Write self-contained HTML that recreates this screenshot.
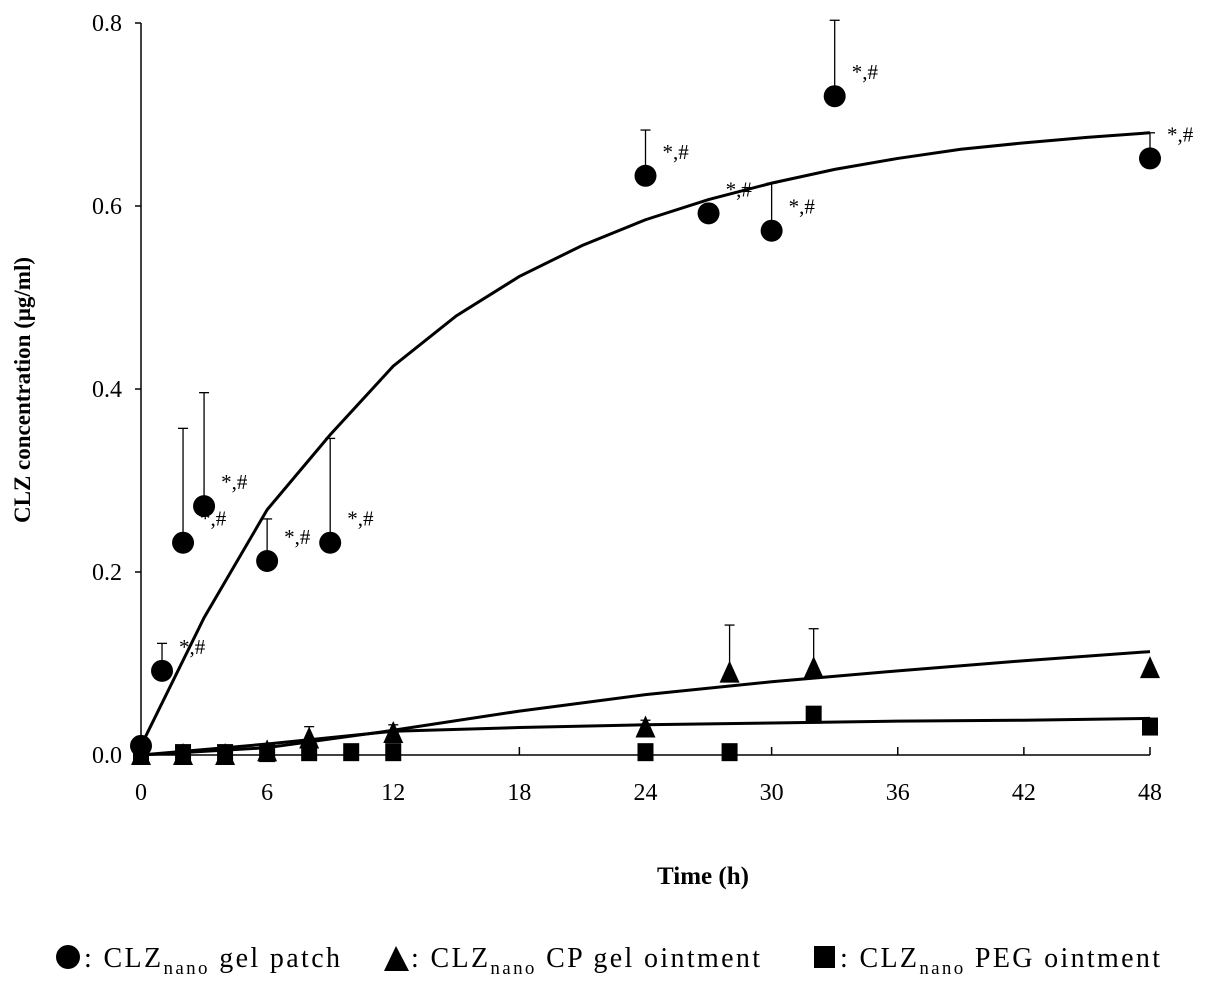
<!DOCTYPE html>
<html><head><meta charset="utf-8"><style>
body{margin:0;background:#fff}
svg{display:block;font-family:"Liberation Serif",serif}
</style></head><body>
<svg id="chart" width="1205" height="987" viewBox="0 0 1205 987" xmlns="http://www.w3.org/2000/svg">
<g id="axes"></g>
<g id="marks"></g>
<text transform="translate(30,390) rotate(-90)" text-anchor="middle" font-size="23" font-weight="bold">CLZ concentration  (μg/ml)</text>
<text x="703" y="884" text-anchor="middle" font-size="25" font-weight="bold">Time (h)</text>
<g font-size="28">
<g>
<circle cx="68" cy="957" r="12" fill="#000"/>
<text x="84" y="967" textLength="256" lengthAdjust="spacing">: CLZ<tspan font-size="19" dy="7">nano</tspan><tspan dy="-7"> gel  patch</tspan></text></g>
<g>
<polygon points="384,971 409,971 396,946" fill="#000"/>
<text x="411" y="967" textLength="349" lengthAdjust="spacing">: CLZ<tspan font-size="19" dy="7">nano</tspan><tspan dy="-7"> CP gel  ointment</tspan></text></g>
<g>
<rect x="814" y="946" width="21" height="22" fill="#000"/>
<text x="840" y="967" textLength="320" lengthAdjust="spacing">: CLZ<tspan font-size="19" dy="7">nano</tspan><tspan dy="-7"> PEG  ointment</tspan></text></g>
</g>
</svg>
<script>
const xTicks=[0,6,12,18,24,30,36,42,48];
const yTicks=[0,0.2,0.4,0.6,0.8];
const yTickLabels=["0.0","0.2","0.4","0.6","0.8"];
const gelT=[0,1,2,3,6,9,24,27,30,33,48];
const gelY=[0.01,0.092,0.232,0.272,0.212,0.232,0.633,0.592,0.573,0.72,0.652];
const gelErr=[0,0.122,0.357,0.396,0.258,0.346,0.683,0,0.625,0.803,0.68];
const gelStar=[0,1,1,1,1,1,1,1,1,1,1];
const cpT=[0,2,4,6,8,12,24,28,32,48];
const cpY=[0,0,0,0.004,0.018,0.024,0.03,0.09,0.095,0.095];
const cpErr=[0,0,0,0,0.031,0.033,0.038,0.142,0.138,0];
const pegT=[0,2,4,6,8,10,12,24,28,32,48];
const pegY=[0,0.001,0.001,0.001,0.002,0.002,0.002,0.002,0.002,0.043,0.03];
const gelFitT=[0,3,6,9,12,15,18,21,24,27,30,33,36,39,42,45,48];
const gelFitY=[0.01,0.15,0.268,0.35,0.425,0.48,0.523,0.557,0.585,0.607,0.625,0.64,0.652,0.662,0.669,0.675,0.68];
const cpFitT=[0,6,12,18,24,30,36,42,48];
const cpFitY=[0,0.008,0.027,0.048,0.066,0.08,0.092,0.103,0.113];
const pegFitT=[0,6,12,18,24,30,36,42,48];
const pegFitY=[0,0.012,0.026,0.03,0.033,0.035,0.037,0.038,0.04];

const X=t=>141+t*(1150-141)/48;
const Y=v=>755-v*(755-23)/0.8;
const NS="http://www.w3.org/2000/svg";
function mk(parent,tag,attrs){const e=document.createElementNS(NS,tag);for(const k in attrs)e.setAttribute(k,attrs[k]);parent.appendChild(e);return e;}
const axes=document.getElementById('axes');const marks=document.getElementById('marks');
let e;
e=mk(axes,'line',{x1:141,y1:Y(0.8),x2:141,y2:755,stroke:'#000','stroke-width':1.5});


e=mk(axes,'line',{x1:141,y1:755,x2:X(48),y2:755,stroke:'#000','stroke-width':1.5});


xTicks.forEach(t=>{
 mk(axes,'line',{x1:X(t),y1:755,x2:X(t),y2:747,stroke:'#000','stroke-width':1.5});
 e=mk(axes,'text',{x:X(t),y:800,'text-anchor':'middle','font-size':24});
 e.textContent=t;
 
 
});
yTicks.forEach((v,i)=>{
 mk(axes,'line',{x1:141,y1:Y(v),x2:135,y2:Y(v),stroke:'#000','stroke-width':1.5});
 e=mk(axes,'text',{x:122,y:Y(v)+8,'text-anchor':'end','font-size':24});
 e.textContent=yTickLabels[i];
 
 
});
function fit(T,V,name){
 e=mk(marks,'polyline',{points:T.map((t,i)=>X(t)+','+Y(V[i])).join(' '),fill:'none',stroke:'#000','stroke-width':3});
 
 
}
function err(t,v,top){
 if(top<=v)return;
 mk(marks,'line',{x1:X(t),y1:Y(v),x2:X(t),y2:Y(top),stroke:'#000','stroke-width':1.3});
 mk(marks,'line',{x1:X(t)-5,y1:Y(top),x2:X(t)+5,y2:Y(top),stroke:'#000','stroke-width':1.3});
}
fit(gelFitT,gelFitY,'gel-patch-fit-curve');
fit(cpFitT,cpFitY,'cp-gel-fit-curve');
fit(pegFitT,pegFitY,'peg-fit-curve');
gelT.forEach((t,i)=>{
 err(t,gelY[i],gelErr[i]);
 e=mk(marks,'circle',{cx:X(t),cy:Y(gelY[i]),r:11,fill:'#000'});
 
 
 if(gelStar[i]){
  e=mk(marks,'text',{x:X(t)+17,y:Y(gelY[i])-17,'font-size':21});
  e.textContent='*,#';
  
  
 }
});
cpT.forEach((t,i)=>{
 err(t,cpY[i],cpErr[i]);
 const x=X(t),y=Y(cpY[i]);
 e=mk(marks,'polygon',{points:`${x-10},${y+10} ${x+10},${y+10} ${x},${y-12}`,fill:'#000'});
 
 
});
pegT.forEach((t,i)=>{
 const x=X(t),y=Y(pegY[i]);
 e=mk(marks,'rect',{x:x-8,y:y-10,width:16,height:18,fill:'#000'});
 
 
});
</script>
</body></html>
